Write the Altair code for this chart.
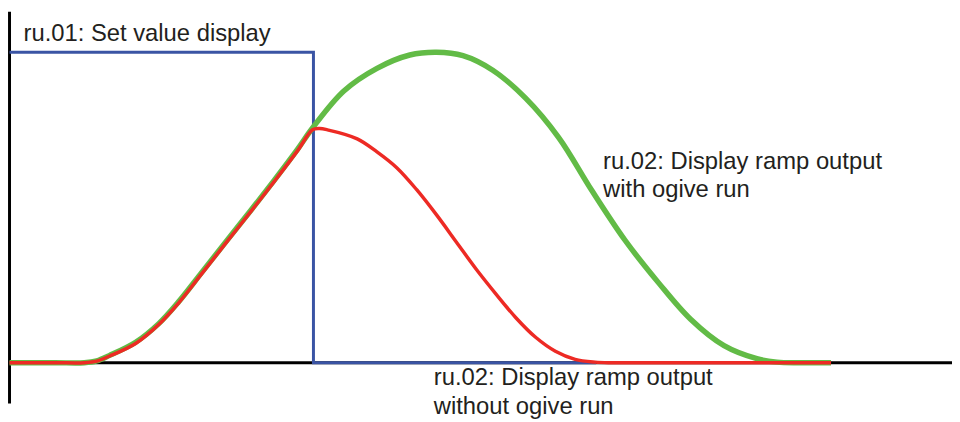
import altair as alt
import pandas as pd

# ---- data (time in arbitrary units, value in % of set value) ----
set_t = [0.0, 10.0, 10.0, 19.3]
set_v = [100.0, 100.0, 0.0, 0.0]

green_t = [0.0, 1.5, 2.46, 2.87, 3.28, 4.15, 4.91, 5.56, 6.32, 7.09, 7.95, 8.72, 9.48, 9.97,
           11.0, 12.09, 13.17, 14.05, 14.92, 15.9, 16.98, 18.07, 19.15, 20.24,
           21.35, 22.41, 23.51, 24.59, 25.25, 26.0, 27.03]
green_v = [0.0, 0.0, 0.0, 0.6, 2.3, 6.6, 12.6, 19.6, 29.0, 38.6, 49.2, 58.9, 68.8, 75.6,
           87.5, 94.8, 99.1, 100.0, 98.9, 94.2, 85.2, 72.5, 55.6, 39.6,
           25.8, 14.0, 5.5, 1.3, 0.2, 0.0, 0.0]

red_t = [0.0, 1.5, 2.46, 2.87, 3.28, 4.15, 4.91, 5.56, 6.32, 7.09, 7.95, 8.72, 9.48, 9.97,
         10.2, 10.46, 11.44, 12.09, 12.74, 13.39, 14.05, 14.7, 15.35, 16.0, 16.66,
         17.31, 17.96, 18.61, 19.27, 19.8, 21.0, 27.03]
red_v = [0.0, 0.0, 0.0, 0.5, 2.1, 6.2, 12.3, 19.2, 28.6, 38.2, 48.8, 58.5, 68.3, 75.0,
         75.4, 75.0, 72.1, 67.9, 62.8, 55.8, 47.6, 38.9, 30.2, 22.2, 14.5,
         8.2, 3.7, 1.1, 0.2, 0.0, 0.0, 0.0]

label_text = ["ru.01: Set value display",
              "ru.02: Display ramp output", "with ogive run",
              "ru.02: Display ramp output", "without ogive run"]
label_t = [0.46, 19.53, 19.53, 13.96, 13.96]
label_v = [103.7, 62.5, 53.4, -7.25, -16.6]

axis_t = [0.0, 0.0]
axis_t2 = [0.0, 31.01]
axis_v = [-13.1, 0.0]
axis_v2 = [113.0, 0.0]

X_DOMAIN = [-0.05, 31.01]
Y_DOMAIN = [-18.52, 113.67]

# ---- tables ----
set_df = pd.DataFrame({"t": set_t, "v": set_v, "i": range(len(set_t))})
green_df = pd.DataFrame({"t": green_t, "v": green_v, "i": range(len(green_t))})
red_df = pd.DataFrame({"t": red_t, "v": red_v, "i": range(len(red_t))})
label_df = pd.DataFrame({"t": label_t, "v": label_v, "text": label_text})
axis_df = pd.DataFrame({"t": axis_t, "t2": axis_t2, "v": axis_v, "v2": axis_v2})

xs = alt.Scale(domain=X_DOMAIN, nice=False, zero=False)
ys = alt.Scale(domain=Y_DOMAIN, nice=False, zero=False)
X = alt.X("t:Q", scale=xs, axis=None)
Y = alt.Y("v:Q", scale=ys, axis=None)

axes = alt.Chart(axis_df).mark_rule(color="#000000", strokeWidth=3, strokeCap="butt").encode(
    x=X, x2="t2:Q", y=Y, y2="v2:Q"
)

blue = alt.Chart(set_df).mark_line(color="#3a54a4", strokeWidth=3, strokeJoin="miter",
                                   strokeCap="butt").encode(
    x=X, y=Y, order="i:Q"
)

green = alt.Chart(green_df).mark_line(color="#62bb46", strokeWidth=5.5,
                                      interpolate="catmull-rom", strokeCap="butt").encode(
    x=X, y=Y, order="i:Q"
)

red = alt.Chart(red_df).mark_line(color="#ed2a24", strokeWidth=3.5,
                                  interpolate="catmull-rom", strokeCap="butt").encode(
    x=X, y=Y, order="i:Q"
)

labels = alt.Chart(label_df).mark_text(
    align="left", baseline="alphabetic", font="Liberation Sans", fontSize=24,
    color="#231f20"
).encode(x=X, y=Y, text="text:N")

chart = alt.layer(axes, blue, green, red, labels).properties(
    width=952, height=414, padding=0,
    autosize=alt.AutoSizeParams(type="none"),
    background="#ffffff",
).configure_view(stroke=None)

chart.save("out.html", embed_options={"renderer": "svg", "actions": False})
